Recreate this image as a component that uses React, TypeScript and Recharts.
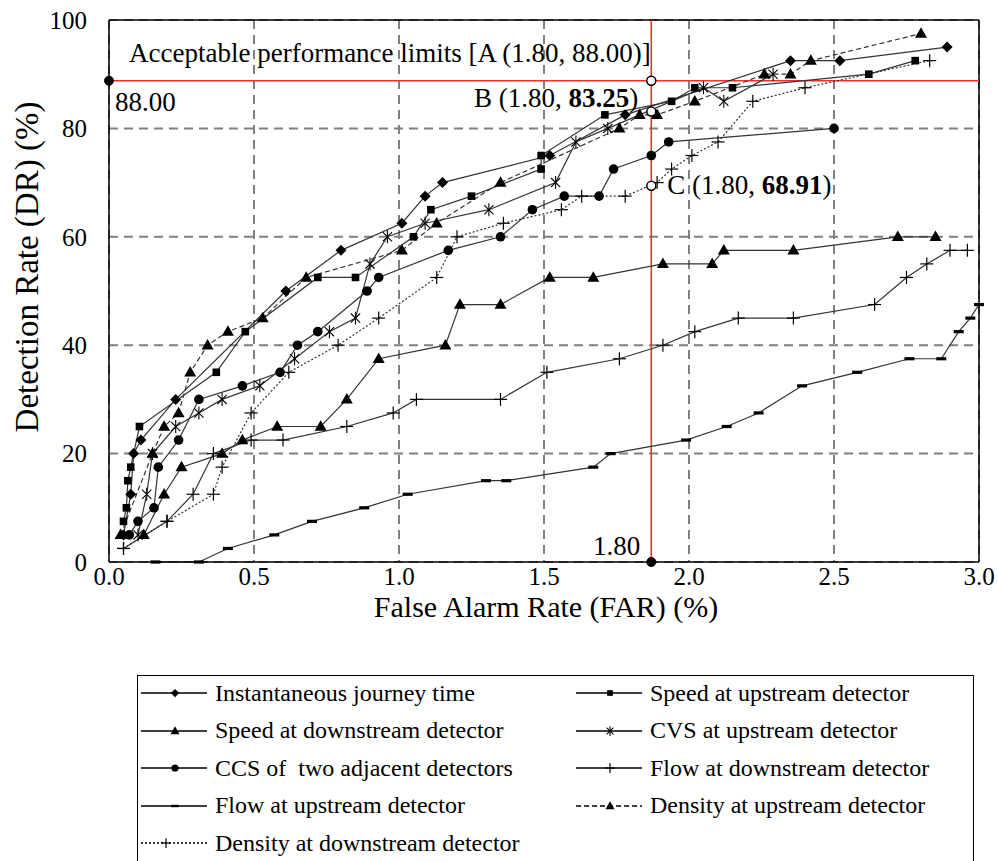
import {
  LineChart,
  Line,
  XAxis,
  YAxis,
  CartesianGrid,
  ReferenceLine,
  ReferenceDot,
  Label,
} from "recharts";

const FONT = "'Liberation Serif', 'DejaVu Serif', 'Noto Serif', 'Times New Roman', Times, serif";

const xTicks = [0, 0.5, 1, 1.5, 2, 2.5, 3];
const yTicks = [0, 20, 40, 60, 80, 100];

// FAR (%) / DR (%) pairs
const journeyFar = [0.05, 0.075, 0.085, 0.11, 0.23, 0.61, 0.8, 1.01, 1.09, 1.15, 1.52, 1.78, 2.35, 2.52, 2.89];
const journeyDr = [5, 12.5, 20, 22.5, 30, 50, 57.5, 62.5, 67.5, 70, 75, 82.5, 92.5, 92.5, 95];

const speedUpFar = [0.05, 0.06, 0.065, 0.075, 0.105, 0.37, 0.47, 0.72, 0.85, 1.05, 1.11, 1.25, 1.49, 1.49, 1.71, 1.94, 2.02, 2.15, 2.62, 2.78];
const speedUpDr = [7.5, 10, 15, 17.5, 25, 35, 42.5, 52.5, 52.5, 60, 65, 67.5, 72.5, 75, 82.5, 85, 87.5, 87.5, 90, 92.5];

const speedDownFar = [0.12, 0.19, 0.25, 0.39, 0.46, 0.58, 0.73, 0.82, 0.93, 1.16, 1.21, 1.35, 1.52, 1.67, 1.91, 2.08, 2.12, 2.36, 2.72, 2.85];
const speedDownDr = [5, 12.5, 17.5, 20, 22.5, 25, 25, 30, 37.5, 40, 47.5, 47.5, 52.5, 52.5, 55, 55, 57.5, 57.5, 60, 60];

const cvsFar = [0.1, 0.13, 0.15, 0.23, 0.31, 0.39, 0.52, 0.64, 0.76, 0.85, 0.9, 0.96, 1.09, 1.31, 1.54, 1.61, 1.72, 2.05, 2.12, 2.29];
const cvsDr = [5, 12.5, 20, 25, 27.5, 30, 32.5, 37.5, 42.5, 45, 55, 60, 62.5, 65, 70, 77.5, 80, 87.5, 85, 90];

const ccsFar = [0.07, 0.1, 0.155, 0.17, 0.24, 0.31, 0.46, 0.59, 0.65, 0.72, 0.89, 0.93, 1.17, 1.35, 1.46, 1.57, 1.69, 1.74, 1.87, 1.93, 2.5];
const ccsDr = [5, 7.5, 10, 17.5, 22.5, 30, 32.5, 35, 40, 42.5, 50, 52.5, 57.5, 60, 65, 67.5, 67.5, 72.5, 75, 77.5, 80];

const flowDownFar = [0.05, 0.2, 0.29, 0.36, 0.49, 0.6, 0.82, 0.98, 1.06, 1.35, 1.51, 1.76, 1.91, 2.02, 2.17, 2.36, 2.64, 2.75, 2.82, 2.9, 2.96];
const flowDownDr = [2.5, 7.5, 12.5, 20, 22.5, 22.5, 25, 27.5, 30, 30, 35, 37.5, 40, 42.5, 45, 45, 47.5, 52.5, 55, 57.5, 57.5];

const flowUpFar = [0.16, 0.31, 0.41, 0.57, 0.7, 0.88, 1.03, 1.3, 1.37, 1.67, 1.73, 1.99, 2.13, 2.24, 2.39, 2.58, 2.76, 2.87, 2.93, 2.97, 3.0];
const flowUpDr = [0, 0, 2.5, 5, 7.5, 10, 12.5, 15, 15, 17.5, 20, 22.5, 25, 27.5, 32.5, 35, 37.5, 37.5, 42.5, 45, 47.5];

const densUpFar = [0.04, 0.15, 0.19, 0.24, 0.28, 0.34, 0.41, 0.53, 0.68, 1.01, 1.13, 1.35, 1.76, 1.83, 1.89, 2.02, 2.26, 2.35, 2.42, 2.8];
const densUpDr = [5, 20, 25, 27.5, 35, 40, 42.5, 45, 52.5, 57.5, 62.5, 70, 80, 82.5, 82.5, 85, 90, 90, 92.5, 97.5];

const densDownFar = [0.05, 0.2, 0.36, 0.39, 0.49, 0.62, 0.79, 0.93, 1.13, 1.2, 1.36, 1.56, 1.63, 1.78, 1.89, 1.94, 2.01, 2.1, 2.22, 2.4, 2.83];
const densDownDr = [2.5, 7.5, 12.5, 17.5, 27.5, 35, 40, 45, 52.5, 60, 62.5, 65, 67.5, 67.5, 70, 72.5, 75, 77.5, 85, 87.5, 92.5];

// limit lines / points as drawn in the figure
const LIMIT_FAR = 1.87;
const LIMIT_DR = 88.8;
const POINT_B = 83.1;
const POINT_C = 69.4;

type Shape = "diamond" | "square" | "triangle" | "asterisk" | "circle" | "plus" | "dash";

const SERIES: { name: string; far: number[]; dr: number[]; shape: Shape; dash?: string }[] = [
  { name: "Instantaneous journey time", far: journeyFar, dr: journeyDr, shape: "diamond" },
  { name: "Speed at upstream detector", far: speedUpFar, dr: speedUpDr, shape: "square" },
  { name: "Speed at downstream detector", far: speedDownFar, dr: speedDownDr, shape: "triangle" },
  { name: "CVS at upstream detector", far: cvsFar, dr: cvsDr, shape: "asterisk" },
  { name: "CCS of  two adjacent detectors", far: ccsFar, dr: ccsDr, shape: "circle" },
  { name: "Flow at downstream detector", far: flowDownFar, dr: flowDownDr, shape: "plus" },
  { name: "Flow at upstream detector", far: flowUpFar, dr: flowUpDr, shape: "dash" },
  { name: "Density at upstream detector", far: densUpFar, dr: densUpDr, shape: "triangle", dash: "5 3" },
  { name: "Density at downstream detector", far: densDownFar, dr: densDownDr, shape: "plus", dash: "2 2" },
];

function Marker({ shape, cx, cy, k = 1 }: { shape: Shape; cx: number; cy: number; k?: number }) {
  switch (shape) {
    case "diamond": {
      const r = 5.5 * k;
      return <polygon points={`${cx},${cy - r} ${cx + r},${cy} ${cx},${cy + r} ${cx - r},${cy}`} fill="#000" />;
    }
    case "square": {
      const r = 3.8 * k;
      return <rect x={cx - r} y={cy - r} width={2 * r} height={2 * r} fill="#000" />;
    }
    case "triangle": {
      const w = 6 * k;
      const h = 10.5 * k;
      return <polygon points={`${cx},${cy - h * 0.6} ${cx + w},${cy + h * 0.4} ${cx - w},${cy + h * 0.4}`} fill="#000" />;
    }
    case "circle":
      return <circle cx={cx} cy={cy} r={4.8 * k} fill="#000" />;
    case "asterisk": {
      const r = 6.5 * k;
      const a = r * Math.cos(Math.PI / 4);
      return (
        <g stroke="#000" strokeWidth={1.1}>
          <line x1={cx} y1={cy - r} x2={cx} y2={cy + r} />
          <line x1={cx - a} y1={cy - a} x2={cx + a} y2={cy + a} />
          <line x1={cx - a} y1={cy + a} x2={cx + a} y2={cy - a} />
        </g>
      );
    }
    case "plus": {
      const r = 6.5 * k;
      return (
        <g stroke="#000" strokeWidth={1.2}>
          <line x1={cx - r} y1={cy} x2={cx + r} y2={cy} />
          <line x1={cx} y1={cy - r} x2={cx} y2={cy + r} />
        </g>
      );
    }
    case "dash":
    default:
      return <rect x={cx - 5 * k} y={cy - 1.6 * k} width={10 * k} height={3.2 * k} fill="#000" />;
  }
}

const dotFor = (shape: Shape) => (p: any) => {
  if (p.cx == null || p.cy == null) return <g key={p.index} />;
  return (
    <g key={p.index}>
      <Marker shape={shape} cx={p.cx} cy={p.cy} />
    </g>
  );
};

const centerOf = (props: any) => {
  const vb = props.viewBox || {};
  return { x: (vb.x ?? 0) + (vb.width ?? 0) / 2, y: (vb.y ?? 0) + (vb.height ?? 0) / 2 };
};

const txt = { fontFamily: FONT, fontSize: 27, fill: "#000" } as const;

const labelA = (props: any) => {
  const c = centerOf(props);
  return (
    <g>
      <text x={c.x + 20} y={c.y - 19} {...txt}>Acceptable performance limits [A (1.80, 88.00)]</text>
      <text x={c.x + 6} y={c.y + 30} {...txt}>88.00</text>
    </g>
  );
};

const labelB = (props: any) => {
  const c = centerOf(props);
  return (
    <text x={c.x - 13} y={c.y - 5} textAnchor="end" {...txt} style={{ whiteSpace: "pre" }}>
      <tspan>B (1.80, </tspan>
      <tspan fontWeight="bold">83.25</tspan>
      <tspan>)</tspan>
    </text>
  );
};

const labelC = (props: any) => {
  const c = centerOf(props);
  return (
    <text x={c.x + 16} y={c.y + 8} {...txt} style={{ whiteSpace: "pre" }}>
      <tspan>C (1.80, </tspan>
      <tspan fontWeight="bold">68.91</tspan>
      <tspan>)</tspan>
    </text>
  );
};

const label180 = (props: any) => {
  const c = centerOf(props);
  return (
    <text x={c.x - 11} y={c.y - 7} textAnchor="end" {...txt}>1.80</text>
  );
};

function LegendBox() {
  return (
    <div
      style={{
        position: "absolute",
        left: 137,
        top: 675,
        width: 837,
        height: 200,
        border: "1.5px solid #000",
        boxSizing: "border-box",
        fontFamily: FONT,
        fontSize: 24,
        color: "#000",
      }}
    >
      {SERIES.map((s, i) => {
        const col = i % 2;
        const row = Math.floor(i / 2);
        const left = col === 0 ? 2 : 437;
        const top = 4 + row * 37.6;
        const mx = s.shape === "plus" && s.dash ? 26 : 35;
        return (
          <div key={s.name} style={{ position: "absolute", left, top, height: 26, display: "flex", alignItems: "center", whiteSpace: "pre" }}>
            <svg width={68} height={26} style={{ display: "block" }}>
              <line x1={1} y1={13} x2={67} y2={13} stroke="#000" strokeWidth={1.3} strokeDasharray={s.dash} />
              <Marker shape={s.shape} cx={mx} cy={13} k={0.75} />
            </svg>
            <span style={{ marginLeft: 7 }}>{s.name}</span>
          </div>
        );
      })}
    </div>
  );
}

export default function App() {
  const seriesData = SERIES.map((s) => s.far.map((f, i) => ({ far: f, dr: s.dr[i] })));
  const tickStyle = { fill: "#000", fontSize: 25, fontFamily: FONT };

  return (
    <div style={{ position: "absolute", left: 0, top: 0, width: 998, height: 861, overflow: "hidden", background: "#fff", fontFamily: FONT }}>
      <LineChart width={998} height={640} margin={{ top: 20, right: 19, bottom: 0, left: 0 }} style={{ fontFamily: FONT }}>
        <CartesianGrid stroke="#808080" strokeWidth={2} strokeDasharray="9 6" />
        <XAxis
          type="number"
          dataKey="far"
          domain={[0, 3]}
          ticks={xTicks}
          interval={0}
          tickFormatter={(v: number) => v.toFixed(1)}
          tick={tickStyle}
          tickLine={false}
          tickSize={0}
          tickMargin={5}
          height={78}
          axisLine={{ stroke: "#000", strokeWidth: 1.5 }}
        >
          <Label
            content={(p: any) => {
              const vb = p.viewBox || {};
              return (
                <text x={vb.x + vb.width / 2 + 2} y={vb.y + 55} textAnchor="middle" fontFamily={FONT} fontSize={30} fill="#000">
                  False Alarm Rate (FAR) (%)
                </text>
              );
            }}
          />
        </XAxis>
        <YAxis
          type="number"
          domain={[0, 100]}
          ticks={yTicks}
          interval={0}
          tick={tickStyle}
          tickLine={false}
          tickSize={0}
          tickMargin={22}
          width={109}
          axisLine={{ stroke: "#000", strokeWidth: 1.5 }}
        >
          <Label
            content={(p: any) => {
              const vb = p.viewBox || {};
              const cy = vb.y + vb.height / 2 - 24;
              return (
                <text x={27} y={cy} textAnchor="middle" dominantBaseline="central" transform={`rotate(-90 27 ${cy})`} fontFamily={FONT} fontSize={33} fill="#000">
                  Detection Rate (DR) (%)
                </text>
              );
            }}
          />
        </YAxis>
        <ReferenceLine x={3} stroke="#000" strokeWidth={1.5} />
        <ReferenceLine y={100} stroke="#000" strokeWidth={1.5} />
        <ReferenceLine y={LIMIT_DR} stroke="#ff2b2b" strokeWidth={1.6} />
        <ReferenceLine x={LIMIT_FAR} stroke="#ff2b2b" strokeWidth={1.6} />
        {SERIES.map((s, i) => (
          <Line
            key={s.name}
            name={s.name}
            data={seriesData[i]}
            dataKey="dr"
            type="linear"
            stroke="#333"
            strokeWidth={1.2}
            strokeDasharray={s.dash}
            dot={dotFor(s.shape)}
            activeDot={false}
            isAnimationActive={false}
          />
        ))}
        <ReferenceDot x={0} y={LIMIT_DR} r={4.5} fill="#000" stroke="#000" ifOverflow="visible" label={{ content: labelA }} />
        <ReferenceDot x={LIMIT_FAR} y={0} r={4.5} fill="#000" stroke="#000" ifOverflow="visible" label={{ content: label180 }} />
        <ReferenceDot x={LIMIT_FAR} y={LIMIT_DR} r={4.5} fill="#fff" stroke="#000" strokeWidth={1.5} ifOverflow="visible" />
        <ReferenceDot x={LIMIT_FAR} y={POINT_B} r={4.5} fill="#fff" stroke="#000" strokeWidth={1.5} ifOverflow="visible" label={{ content: labelB }} />
        <ReferenceDot x={LIMIT_FAR} y={POINT_C} r={4.5} fill="#fff" stroke="#000" strokeWidth={1.5} ifOverflow="visible" label={{ content: labelC }} />
      </LineChart>
      <LegendBox />
    </div>
  );
}
